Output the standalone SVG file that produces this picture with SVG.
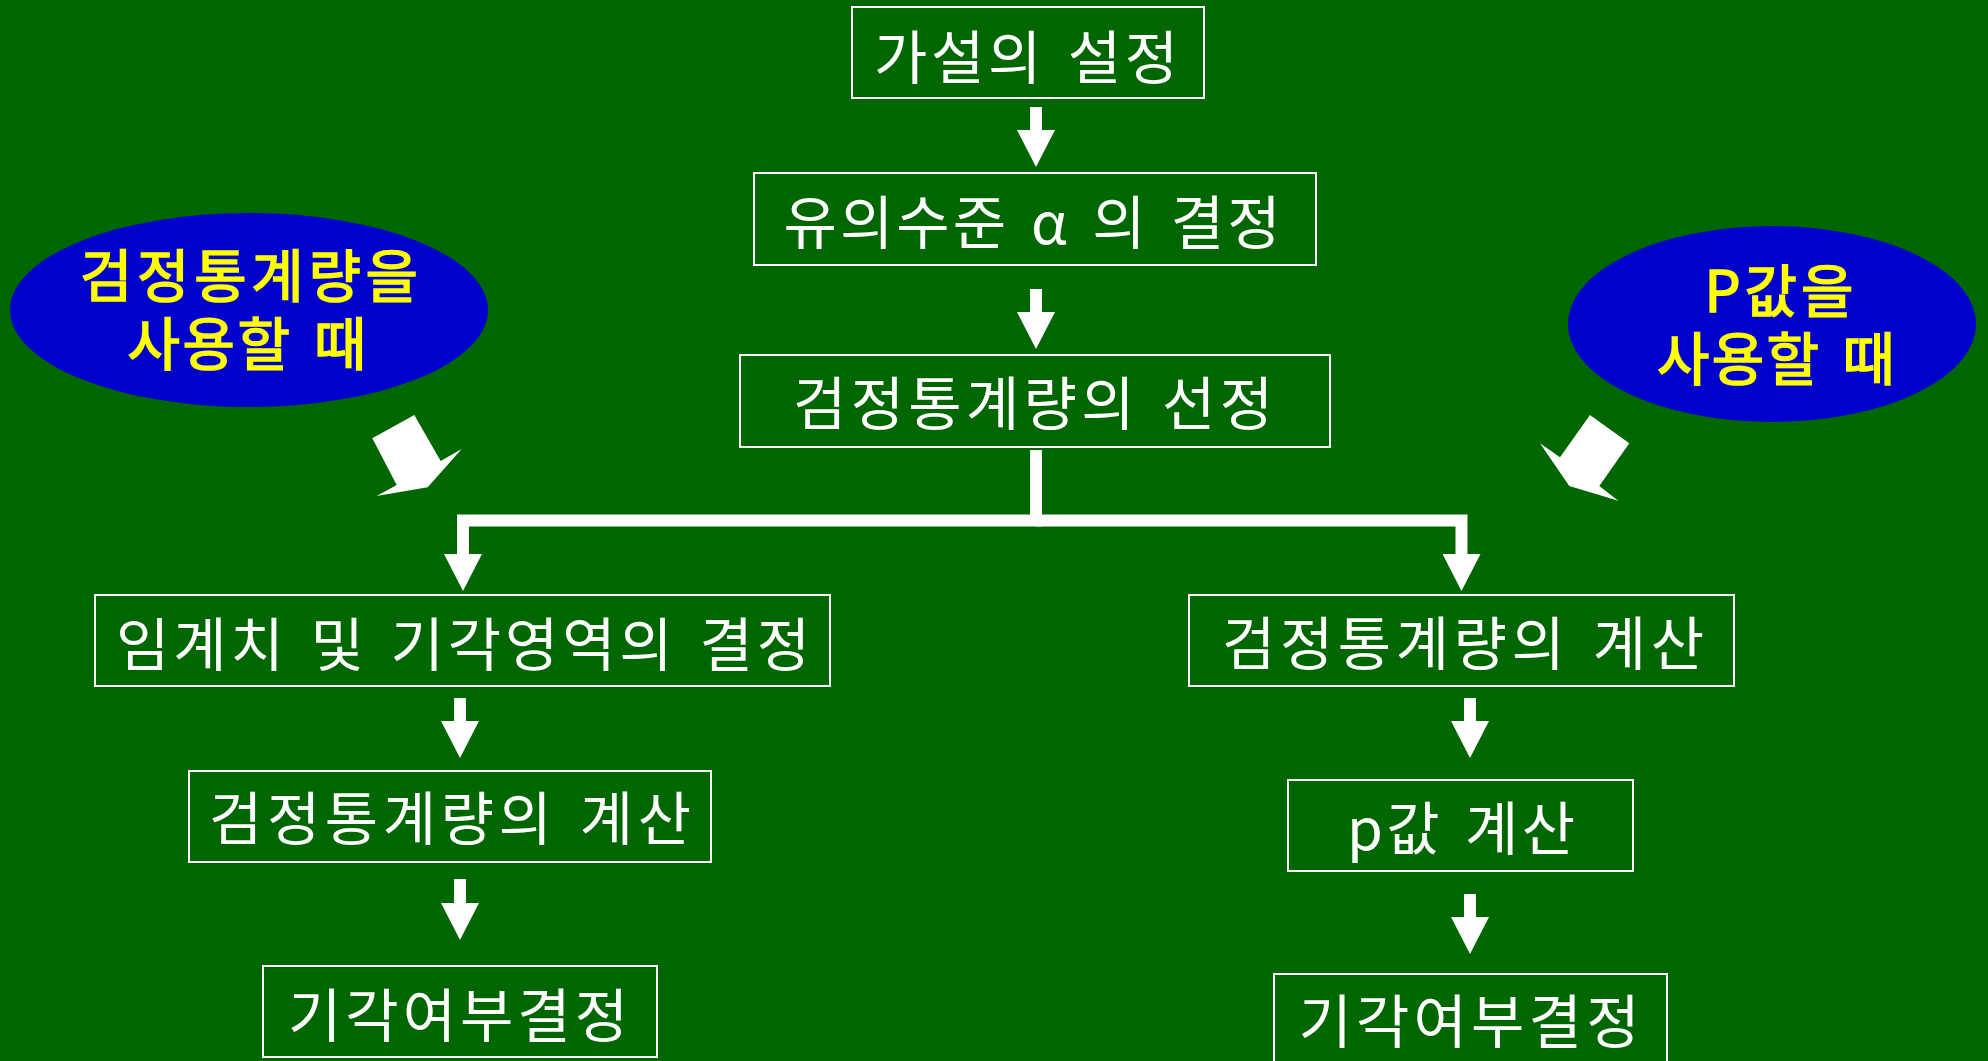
<svg xmlns="http://www.w3.org/2000/svg" width="1988" height="1061" viewBox="0 0 1988 1061">
<defs>
<style>
.bg{fill:#006600}
.box{fill:none;stroke:#ffffff;stroke-width:2}
.t{font-family:"Noto Sans CJK KR","Noto Sans",sans-serif;font-size:58px;fill:#ffffff;text-anchor:middle;word-spacing:6px}
.y{font-family:"Noto Sans CJK KR","Noto Sans",sans-serif;font-size:57px;font-weight:400;fill:#ffff00;stroke:#ffff00;stroke-width:1.6;text-anchor:middle;word-spacing:6px}
.ell{fill:#0000cc}
.con{fill:none;stroke:#ffffff;stroke-width:12;stroke-linejoin:miter;stroke-linecap:butt}
.barrow{fill:#ffffff}
</style>
<marker id="ah" markerUnits="userSpaceOnUse" viewBox="0 -19 37 38" refX="0" refY="0" markerWidth="37" markerHeight="38" orient="auto">
<path d="M0,-19 L37,0 L0,19 Z" fill="#ffffff"/>
</marker>
</defs>
<rect class="bg" x="0" y="0" width="1988" height="1061"/>

<g id="connectors">
<line class="con" x1="1036" y1="107" x2="1036" y2="130" marker-end="url(#ah)"/>
<line class="con" x1="1036" y1="289" x2="1036" y2="312" marker-end="url(#ah)"/>
<path class="con" d="M1036,450 V520.5 H463 V554" marker-end="url(#ah)"/>
<path class="con" d="M1036,520.5 H1461.5 V554" marker-end="url(#ah)"/>
<line class="con" x1="460" y1="698" x2="460" y2="721" marker-end="url(#ah)"/>
<line class="con" x1="460" y1="879" x2="460" y2="903" marker-end="url(#ah)"/>
<line class="con" x1="1470" y1="698" x2="1470" y2="721" marker-end="url(#ah)"/>
<line class="con" x1="1470" y1="894" x2="1470" y2="917" marker-end="url(#ah)"/>
<polygon class="barrow" points="372.3,438.3 414.3,415 440.7,461 461.7,449 427.7,487.3 376.7,496 396.7,485"/>
<polygon class="barrow" points="1590,415 1629.3,443.3 1599.3,486 1618.3,500.7 1569.3,486 1540,443.3 1560,457.3"/>
</g>

<g id="node-hypothesis">
<rect class="box" x="852" y="7" width="352" height="91"/>
<text class="t" x="1026" y="79" textLength="304" lengthAdjust="spacing">가설의 설정</text>
</g>
<g id="node-alpha">
<rect class="box" x="754" y="173" width="562" height="92"/>
<text class="t" x="1032" y="244" textLength="497" lengthAdjust="spacing">유의수준 α 의 결정</text>
</g>
<g id="node-select">
<rect class="box" x="740" y="355" width="590" height="92"/>
<text class="t" x="1033" y="425" textLength="480" lengthAdjust="spacing">검정통계량의 선정</text>
</g>
<g id="node-critical">
<rect class="box" x="95" y="595" width="735" height="91"/>
<text class="t" x="463" y="666" textLength="694" lengthAdjust="spacing">임계치 및 기각영역의 결정</text>
</g>
<g id="node-calc-left">
<rect class="box" x="189" y="771" width="522" height="91"/>
<text class="t" x="450" y="840" textLength="482" lengthAdjust="spacing">검정통계량의 계산</text>
</g>
<g id="node-decide-left">
<rect class="box" x="263" y="966" width="394" height="91"/>
<text class="t" x="458" y="1037" textLength="340" lengthAdjust="spacing">기각여부결정</text>
</g>
<g id="node-calc-right">
<rect class="box" x="1189" y="595" width="545" height="91"/>
<text class="t" x="1463" y="665" textLength="482" lengthAdjust="spacing">검정통계량의 계산</text>
</g>
<g id="node-pvalue">
<rect class="box" x="1288" y="780" width="345" height="91"/>
<text class="t" x="1461" y="850" textLength="228" lengthAdjust="spacing">p값 계산</text>
</g>
<g id="node-decide-right">
<rect class="box" x="1274" y="974" width="393" height="92"/>
<text class="t" x="1469" y="1043" textLength="341" lengthAdjust="spacing">기각여부결정</text>
</g>
<g id="node-ellipse-left">
<ellipse class="ell" cx="249" cy="310" rx="239" ry="97"/>
<text class="y"><tspan x="249" y="297" textLength="338" lengthAdjust="spacing">검정통계량을</tspan><tspan x="247" y="365" textLength="239" lengthAdjust="spacing">사용할 때</tspan></text>
</g>
<g id="node-ellipse-right">
<ellipse class="ell" cx="1772" cy="324" rx="204" ry="98"/>
<text class="y"><tspan x="1779" y="312" textLength="149" lengthAdjust="spacing">P값을</tspan><tspan x="1776" y="380" textLength="238" lengthAdjust="spacing">사용할 때</tspan></text>
</g>
</svg>
